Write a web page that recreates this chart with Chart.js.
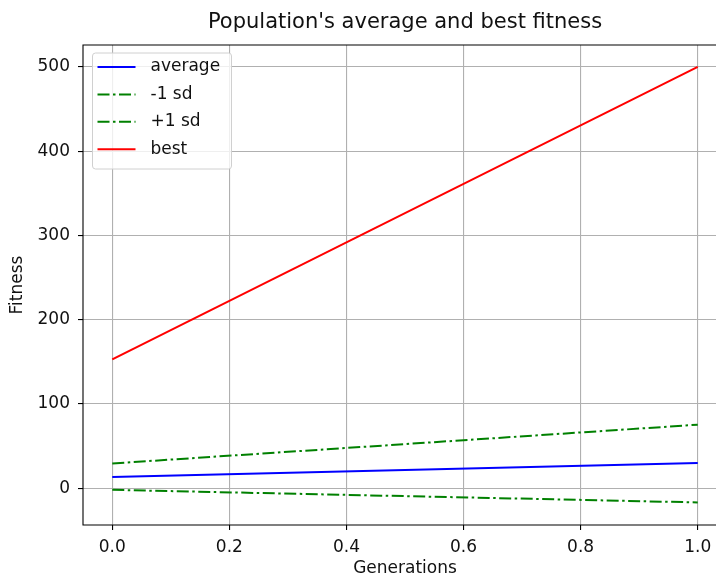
<!DOCTYPE html>
<html>
<head>
<meta charset="utf-8">
<script src="https://cdn.jsdelivr.net/npm/chart.js@4"></script>
<style>
  html, body { margin: 0; padding: 0; background: #fff; overflow: hidden; }
  #wrap { width: 716px; height: 578px; overflow: hidden; }
</style>
</head>
<body>
<div id="wrap"><canvas id="fitness" width="728" height="578"></canvas></div>
<script>
const generations = [0, 1]
const average = [13.4, 29.9]
const minusSd = [-1.9, -16.8]
const plusSd = [29.4, 75.4]
const best = [153, 500]
const xTicks = [0, 0.2, 0.4, 0.6, 0.8, 1.0]
const yTicks = [0, 100, 200, 300, 400, 500]

const FONT = 'DejaVu Sans'
const dashDot = [12, 3.5, 2.5, 3.5]

const toPoints = (ys) => generations.map((x, i) => ({x, y: ys[i]}))

// title, axis labels, frame and the in-axes legend
const decorations = {
  id: 'decorations',
  afterDraw(chart) {
    const {ctx, chartArea: a} = chart
    ctx.save()
    // the right spine falls outside the cropped figure
    ctx.strokeStyle = '#000'
    ctx.lineWidth = 1.1
    ctx.beginPath()
    ctx.moveTo(a.right + 2, a.top)
    ctx.lineTo(a.left, a.top)
    ctx.lineTo(a.left, a.bottom)
    ctx.lineTo(a.right + 2, a.bottom)
    ctx.stroke()

    ctx.fillStyle = '#111'
    ctx.textAlign = 'center'
    ctx.textBaseline = 'middle'
    ctx.font = `21px ${FONT}`
    ctx.fillText("Population's average and best fitness", (a.left + a.right) / 2, 23)
    ctx.font = `17px ${FONT}`
    ctx.fillText('Generations', (a.left + a.right) / 2, 569)
    ctx.save()
    ctx.translate(18, (a.top + a.bottom) / 2)
    ctx.rotate(-Math.PI / 2)
    ctx.fillText('Fitness', 0, 0)
    ctx.restore()

    // legend box
    const bx = a.left + 9.5, by = a.top + 8, bw = 139, bh = 116
    ctx.beginPath()
    ctx.roundRect(bx, by, bw, bh, 3)
    ctx.fillStyle = 'rgba(255,255,255,0.8)'
    ctx.fill()
    ctx.strokeStyle = '#d0d0d0'
    ctx.lineWidth = 1
    ctx.stroke()

    ctx.textAlign = 'left'
    ctx.font = `17px ${FONT}`
    chart.data.datasets.forEach((ds, i) => {
      const y = by + 14 + i * 27.4
      ctx.beginPath()
      ctx.setLineDash(ds.borderDash || [])
      ctx.strokeStyle = ds.borderColor
      ctx.lineWidth = 2
      ctx.moveTo(bx + 5, y)
      ctx.lineTo(bx + 43, y)
      ctx.stroke()
      ctx.setLineDash([])
      ctx.fillStyle = '#111'
      ctx.fillText(ds.label, bx + 58, y)
    })
    ctx.restore()
  },
}

const ctx = document.getElementById('fitness').getContext('2d')
// eslint-disable-next-line no-unused-vars
const chart = new Chart(ctx, {
  type: 'line',
  data: {
    datasets: [
      {label: 'average', data: toPoints(average), borderColor: '#0000ff'},
      {label: '-1 sd', data: toPoints(minusSd), borderColor: '#008000', borderDash: dashDot},
      {label: '+1 sd', data: toPoints(plusSd), borderColor: '#008000', borderDash: dashDot},
      {label: 'best', data: toPoints(best), borderColor: '#ff0000'},
    ],
  },
  options: {
    responsive: false,
    animation: false,
    events: [],
    layout: {padding: {left: 0, right: 1, top: 45, bottom: 0}},
    elements: {
      line: {borderWidth: 2, tension: 0, fill: false},
      point: {radius: 0},
    },
    plugins: {legend: {display: false}, tooltip: {enabled: false}},
    scales: {
      x: {
        type: 'linear',
        min: -0.05,
        max: 1.05,
        afterBuildTicks: (s) => { s.ticks = xTicks.map((value) => ({value})) },
        afterFit: (s) => { s.height = 53 },
        grid: {color: '#b0b0b0', lineWidth: 1.1, tickLength: 5, tickColor: '#000'},
        border: {display: false},
        ticks: {
          color: '#111',
          font: {family: FONT, size: 17},
          padding: 7,
          maxRotation: 0,
          callback: (v) => v.toFixed(1),
        },
      },
      y: {
        type: 'linear',
        min: -43.6,
        max: 525.9,
        afterBuildTicks: (s) => { s.ticks = yTicks.map((value) => ({value})) },
        afterFit: (s) => { s.width = 83 },
        grid: {color: '#b0b0b0', lineWidth: 1.1, tickLength: 5, tickColor: '#000'},
        border: {display: false},
        ticks: {
          color: '#111',
          font: {family: FONT, size: 17},
          padding: 8,
          callback: (v) => String(v),
        },
      },
    },
  },
  plugins: [decorations],
})
</script>
</body>
</html>
